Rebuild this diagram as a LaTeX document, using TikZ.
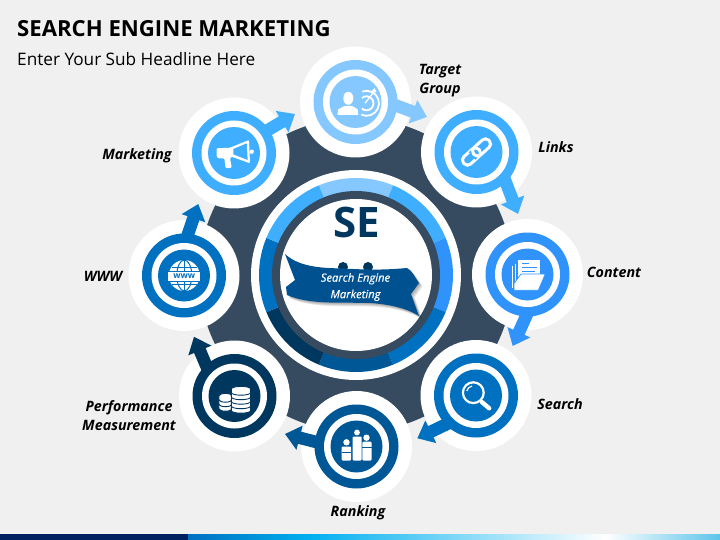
\documentclass[tikz,border=0pt]{standalone}
\usepackage{fontspec}
\setmainfont{Open Sans}
\newfontfamily\ribfont[FakeBold=0.5]{Open Sans}
\usetikzlibrary{arrows.meta}
\definecolor{bgc}{HTML}{F0F0F0}
\definecolor{gearc}{HTML}{364B5F}
\definecolor{cA}{HTML}{84C8FF}
\definecolor{cB}{HTML}{3FAEFF}
\definecolor{cC}{HTML}{2F93FB}
\definecolor{cD}{HTML}{0070C0}
\definecolor{cE}{HTML}{005796}
\definecolor{cF}{HTML}{00375F}
\definecolor{ribc}{HTML}{00518F}
\definecolor{navyc}{HTML}{002060}
\definecolor{barmid}{HTML}{00B0F0}
\definecolor{barend}{HTML}{5CC4EB}
\tikzset{
  halo/.style={circle,fill=white,minimum size=111pt,inner sep=0pt},
  ringdisc/.style={circle,minimum size=84pt,inner sep=0pt},
  gapdisc/.style={circle,fill=white,minimum size=65pt,inner sep=0pt},
  coredisc/.style={circle,minimum size=52pt,inner sep=0pt},
  blockarrow/.style={line width=12.5pt,-{Triangle[length=15pt,width=24pt]}},
  steplabel/.style={font=\fontsize{14.3}{16}\selectfont\bfseries\itshape,text=black,inner sep=0pt,align=center},
  icon/.style={fill=white,draw=none}
}
\newcommand{\coinlayer}[4]{% cx, y, rx, colour
  \path[fill=white,draw=#4,line width=.9pt] (#1-#3,#2) -- (#1-#3,#2+3.6)
    arc[start angle=180,end angle=0,x radius=#3,y radius=2.6] -- (#1+#3,#2)
    arc[start angle=0,end angle=-180,x radius=#3,y radius=2.6] -- cycle;}
\begin{document}
\begin{tikzpicture}[x=1pt,y=1pt,yscale=-1]
\useasboundingbox (0,0) rectangle (720,540);
\fill[bgc] (0,0) rectangle (720,540);
% bottom bar
\fill[navyc] (0,534) rectangle (188,540);
\fill[left color=cD,right color=barmid] (188,534) rectangle (310,540);
\fill[left color=barmid,right color=white] (310,534) rectangle (605,540);
\fill[left color=white,right color=barend] (605,534) rectangle (720,540);
% title
\node[anchor=base west,inner sep=0pt,font=\fontsize{22.15}{26}\selectfont\bfseries,text=black] (title) at (17,37) {SEARCH ENGINE MARKETING};
\node[anchor=base west,inner sep=0pt,font=\fontsize{17.2}{20}\selectfont,text=black] (subtitle) at (17,66) {Enter Your Sub Headline Here};
% gear disc
\node[circle,fill=gearc,minimum size=314pt,inner sep=0pt] (gear) at (356,275) {};
% central dial
\node[circle,fill=white,minimum size=210pt,inner sep=0pt] (dialback) at (356,275) {};
\foreach \a/\c in {-90/cA,-45/cB,0/cC,45/cD,90/cE,135/cF,180/cD,225/cB}{
  \fill[\c] (356,275) -- ++(\a-22.5:97) arc[start angle=\a-22.5,end angle=\a+22.5,radius=97] -- cycle;
}
\node[circle,fill=gearc,minimum size=168pt,inner sep=0pt] (dialring) at (356,275) {};
\node[circle,fill=white,minimum size=152pt,inner sep=0pt] (dialcore) at (356,275) {};
\node[font=\fontsize{42}{46}\selectfont\bfseries,text=cF,inner sep=0pt] (se) at (356.5,222) {SE};
\fill[cF] (343,267) circle (5);
\fill[cF] (368,267) circle (5);
% ribbon
\def\ribbonpath{(285,254) .. controls (300,268) and (325,268) .. (343,268.5)
  .. controls (370,270) and (385,270) .. (407,268) .. controls (412,270) and (415,278) .. (419,283)
  -- (411,294) -- (419,316) .. controls (405,307) and (385,304) .. (370,303)
  .. controls (340,302) and (310,305) .. (287,295) -- (286,287) -- (295,280) -- cycle}
\foreach \o in {1,2,3,4}{
  \fill[black,opacity=.09,shift={(\o*.9,\o*.9)}] \ribbonpath;
}
\fill[ribc] \ribbonpath;
\node[font=\fontsize{11.2}{16.5}\ribfont\selectfont\itshape,text=white,align=center,inner sep=0pt] (ribbontext) at (355.5,287) {Search Engine\\Marketing};
% halos
\foreach \n/\x/\y in {target/355.5/102,links/476.5/152,content/527.5/274.5,search/476/395.5,ranking/356.5/446.5,perf/234.5/396,www/184/275.5,mkt/234/153}{
  \node[halo] (\n) at (\x,\y) {};
}
% coloured rings
\foreach \n/\x/\y/\c in {target/355.5/102/cA,links/476.5/152/cB,content/527.5/274.5/cC,search/476/395.5/cD,ranking/356.5/446.5/cE,perf/234.5/396/cF,www/184/275.5/cD,mkt/234/153/cB}{
  \node[ringdisc,fill=\c] (\n ring) at (\x,\y) {};
}
% arrow end points
\coordinate (targetS) at (392,104);  \coordinate (targetE) at (427,117);
\coordinate (linksS) at (503,175);   \coordinate (linksE) at (518,214);
\coordinate (contentS) at (528,312); \coordinate (contentE) at (512.7,346);
\coordinate (searchS) at (451,422);  \coordinate (searchE) at (417.3,438.3);
\coordinate (rankingS) at (320,443); \coordinate (rankingE) at (285,434);
\coordinate (perfS) at (208.8,371.7);\coordinate (perfE) at (194,336.7);
\coordinate (wwwS) at (186,240);     \coordinate (wwwE) at (198.3,204);
\coordinate (mktS) at (263,133);     \coordinate (mktE) at (295,114);
\foreach \n/\c in {target/cA,links/cB,content/cC,search/cD,ranking/cE,perf/cF,www/cD,mkt/cB}{
  \draw[blockarrow,\c] (\n S) -- (\n E);
}
% inner discs
\foreach \n/\c in {target/cA,links/cB,content/cC,search/cD,ranking/cE,perf/cF,www/cD,mkt/cB}{
  \node[gapdisc] (\n gap) at (\n) {};
  \node[coredisc,fill=\c] (\n core) at (\n) {};
}
% ---- icon: target group
\begin{scope}[shift={(355.5,102)}]
  \fill[icon] (-7.2,-3.7) ellipse (5 and 6.5);
  \fill[icon] (-18,12.8) -- (-17.5,7.5) .. controls (-15,5.5) and (-12,5) .. (-10.5,3.8) -- (-3.8,3.8) .. controls (-2,5.5) and (1,5.5) .. (2.2,7.5) -- (2.8,12.8) -- cycle;
  \draw[white,line width=1.8pt] (11,1.3) ++(-110:12.5) arc[start angle=-110,end angle=115,radius=12.5];
  \draw[white,line width=1.8pt] (11,1.3) ++(-130:7) arc[start angle=-130,end angle=130,radius=7];
  \draw[white,line width=1.2pt] (9.5,1.3) -- (19,-11);
  \fill[icon] (19,-14) -- (21,-10) -- (17.5,-9) -- (16,-11) -- cycle;
\end{scope}
% ---- icon: megaphone
\begin{scope}[shift={(234,153)}]
  \fill[icon,rounded corners=1pt] (-17.3,-4.7) -- (-4,-5.3) -- (15,-13) -- (16,10.3) -- (-2.3,3.7) -- (-4,5) -- (-2.3,14.7) -- (-8.3,15.3) -- (-9.7,5.3) -- (-15.7,5.3) -- (-17.3,3.7) -- cycle;
  \fill[cB] (-0.7,-4) -- (12.7,-9.7) -- (13.7,7) -- (-0.7,1.3) -- cycle;
  \fill[icon] (17.7,-1.3) circle (2.2);
\end{scope}
% ---- icon: links
\begin{scope}[shift={(476.5,152)},rotate=-42]
  \draw[white,line width=3pt,rounded corners=4.6pt] (-17,-5) rectangle (3.5,5);
  \draw[cB,line width=5pt,rounded corners=4.6pt] (-3.5,-5) -- (-3.5,5);
  \draw[white,line width=3pt,rounded corners=4.6pt] (-3.5,-5) rectangle (17,5);
\end{scope}
% ---- icon: folder
\begin{scope}[shift={(527.5,274.5)}]
  \draw[white,line width=1pt] (-14.8,-9) -- (-14.8,13);
  \draw[white,line width=1pt] (-12.4,-11) -- (-12.4,6);
  \fill[icon] (-10,-14.5) rectangle (12.5,4);
  \draw[cC,line width=1pt] (-5.5,-11) -- (1,-11);
  \draw[cC,line width=1pt] (-5.5,-7) -- (9,-7);
  \draw[cC,line width=1pt] (-5.5,-3.5) -- (7.5,-3.5);
  \fill[icon,draw=cC,line width=.7pt] (-13.5,15.8) -- (10.8,15.8) -- (17.8,-0.5) -- (-6.5,-0.5) -- (-13.5,9) -- cycle;
\end{scope}
% ---- icon: search
\begin{scope}[shift={(476,395.5)}]
  \draw[white,line width=2.2pt] (-2.7,-2.8) circle (10.4);
  \draw[white,line width=1.2pt] (-2.7,-2.8) ++(-165:6.8) arc[start angle=-165,end angle=-100,radius=6.8];
  \draw[white,line width=4.4pt,line cap=round] (5.8,6.5) -- (13.2,12.8);
\end{scope}
% ---- icon: ranking
\begin{scope}[shift={(357,446.5)}]
  \fill[icon] (0,-14) circle (2.9);
  \fill[icon] (-10.5,-4.2) circle (3.2);
  \fill[icon] (9.5,-8.8) circle (3.2);
  \fill[icon,rounded corners=1pt] (-4.4,-10) rectangle (4.5,14);
  \fill[icon,rounded corners=1pt] (-15.5,0) rectangle (-5.8,14);
  \fill[icon,rounded corners=1pt] (5.4,-4.8) rectangle (14.6,14);
  \fill[cE] (-15.5,5.6) rectangle (-5.8,6.6);
  \fill[cE] (5.4,0.6) rectangle (14.6,1.6);
\end{scope}
% ---- icon: coins
\begin{scope}[shift={(234.5,396)}]
  \foreach \yy in {9,4.5,0}{ \coinlayer{-9}{\yy}{6.6}{cF} }
  \foreach \yy in {11,6.5,2,-2.5,-7}{ \coinlayer{6.5}{\yy}{9.6}{cF} }
\end{scope}
% ---- icon: globe
\begin{scope}[shift={(184,275.5)}]
  \fill[white] (0.3,0) circle (15.5);
  \draw[cD,line width=1pt] (0.3,0) ellipse (7.5 and 15.5);
  \draw[cD,line width=1pt] (0.3,-15.5) -- (0.3,15.5);
  \draw[cD,line width=1pt] (-12,-8) -- (12.6,-8);
  \draw[cD,line width=1pt] (-12,9) -- (12.6,9);
  \fill[cD] (-17,-5) rectangle (17.5,6.5);
  \fill[white] (-15.7,-3.8) rectangle (16.3,5.2);
  \node[font=\fontsize{8.5}{9}\selectfont\bfseries,text=cD,inner sep=0pt] (wwwtext) at (0.3,0.6) {www};
\end{scope}
% labels
\node[steplabel,text width=60pt] (lblTarget) at (440,81) {Target\\[3pt]Group};
\node[steplabel] (lblLinks) at (556,147.5) {Links};
\node[steplabel] (lblContent) at (614,272.5) {Content};
\node[steplabel] (lblSearch) at (560,404.5) {Search};
\node[steplabel] (lblRanking) at (358,513) {Ranking};
\node[steplabel,text width=100pt] (lblPerf) at (129,416) {Performance\\[3pt]Measurement};
\node[steplabel] (lblWWW) at (103,276.5) {WWW};
\node[steplabel] (lblMkt) at (137,155.5) {Marketing};
\end{tikzpicture}
\end{document}
